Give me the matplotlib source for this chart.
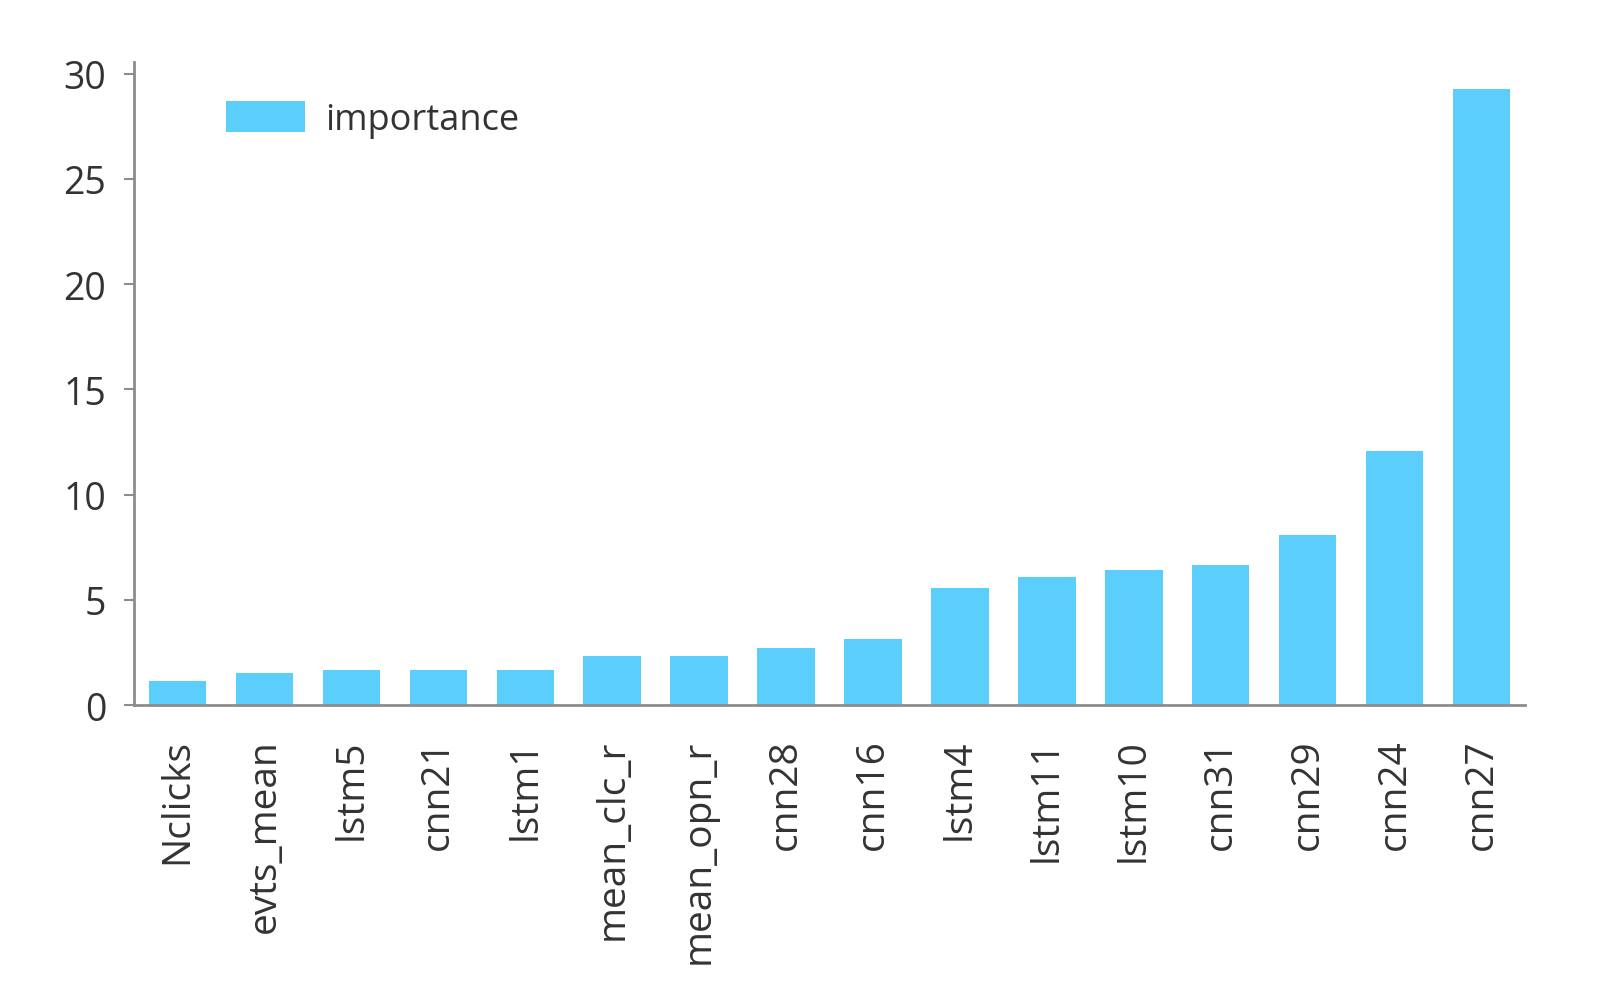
import matplotlib
matplotlib.use("Agg")
import matplotlib.pyplot as plt
import numpy as np

features = ["Nclicks", "evts_mean", "lstm5", "cnn21", "lstm1", "mean_clc_r",
            "mean_opn_r", "cnn28", "cnn16", "lstm4", "lstm11", "lstm10",
            "cnn31", "cnn29", "cnn24", "cnn27"]
importance = [1.16, 1.5, 1.65, 1.65, 1.65, 2.33, 2.33, 2.71, 3.15, 5.57,
              6.06, 6.4, 6.64, 8.1, 12.07, 29.28]
yticks = [0, 5, 10, 15, 20, 25, 30]

plt.rcParams['font.family'] = ['Open Sans', 'DejaVu Sans']

bar_color = "#5BCEFC"
text_color = "#333333"
spine_color = "#8c8c8c"

fig = plt.figure(figsize=(16, 9.87), dpi=100)
ax = fig.add_axes([0.08375, 0.2847, 0.8694, 0.6513])

x = np.arange(len(features))
ax.bar(x, importance, width=0.66, color=bar_color, label="importance")

ax.set_xlim(-0.5, len(features) - 0.5)
ax.set_ylim(0, 30.55)
ax.set_yticks(yticks)
ax.set_xticks(x)
ax.set_xticklabels(features, rotation=90, fontsize=28, color=text_color)
ax.tick_params(axis='x', length=0, pad=24)
ax.tick_params(axis='y', length=7, width=1.5, color=spine_color, pad=13,
               labelsize=27, labelcolor=text_color)

for s in ["top", "right"]:
    ax.spines[s].set_visible(False)
for s in ["left", "bottom"]:
    ax.spines[s].set_color(spine_color)
    ax.spines[s].set_linewidth(2)

leg = ax.legend(loc="upper left", bbox_to_anchor=(0.066, 0.94), frameon=False,
                fontsize=26, handlelength=2.2, handleheight=0.95,
                handletextpad=0.55, borderpad=0, borderaxespad=0)
for t in leg.get_texts():
    t.set_color(text_color)

fig.savefig("out.png", dpi=100)
